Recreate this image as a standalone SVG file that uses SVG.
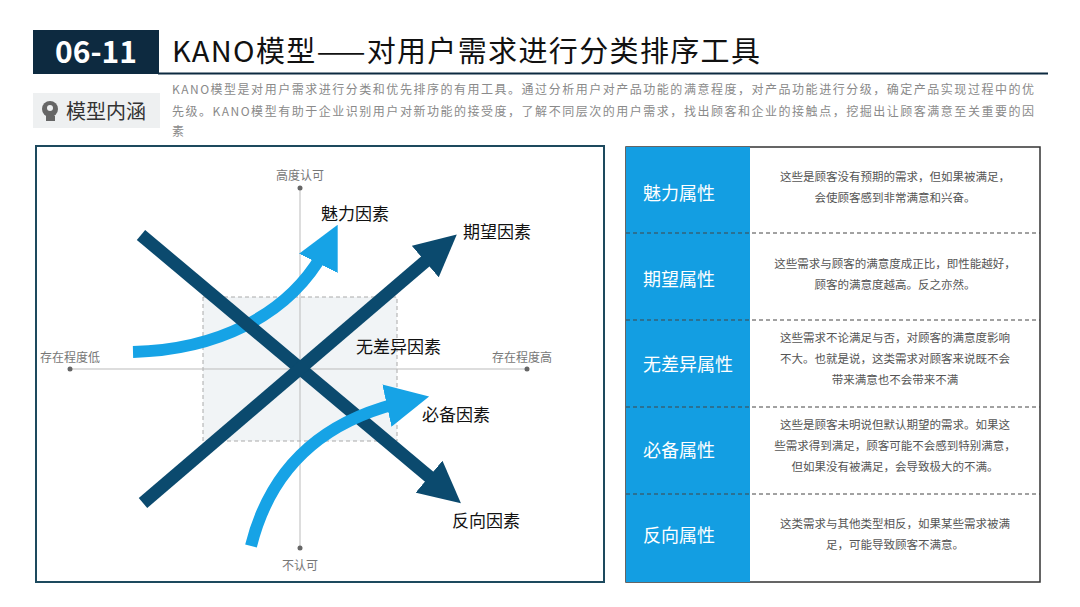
<svg xmlns="http://www.w3.org/2000/svg" width="1080" height="607" viewBox="0 0 1080 607">
<defs>
<style>
text{font-family:"Noto Sans CJK SC","Liberation Sans",sans-serif}
.desc{font-size:12px;fill:#8a8a8a}
.ax{font-size:12px;fill:#777;text-anchor:middle}
.lab{font-size:17px;fill:#111}
.attr{font-size:18px;fill:#fff}
.cell{font-size:11.5px;fill:#555;text-anchor:middle}
.dash{stroke:#444;stroke-width:1;stroke-dasharray:4 3}
</style>
<marker id="hd" viewBox="0 0 10 10" refX="5" refY="5" markerWidth="3.2" markerHeight="3.2" orient="auto"><path d="M0,0L10,5L0,10z" fill="#0b4a6e"/></marker>
<marker id="hl" viewBox="0 0 10 10" refX="5" refY="5" markerWidth="3.6" markerHeight="3.6" orient="auto"><path d="M0,0L10,5L0,10z" fill="#16a3e6"/></marker>
</defs>
<rect width="1080" height="607" fill="#fff"/>
<g id="header">
<rect x="33" y="30" width="126" height="44" fill="#0d2a40"/>
<text x="96" y="63" font-size="30" font-weight="bold" fill="#fff" text-anchor="middle" font-family="Liberation Sans,sans-serif">06-11</text>
<text x="172" y="62" font-size="29" fill="#111" textLength="588">KANO模型——对用户需求进行分类排序工具</text>
<line x1="158" y1="73.5" x2="1048" y2="73.5" stroke="#0d2a40" stroke-width="2"/>
</g>
<g id="intro">
<rect x="33" y="93" width="127" height="35" fill="#eef0f1"/>
<circle cx="50" cy="109" r="8" fill="#666"/><path d="M46,114 L46,121 L55,121 L55,116 Z" fill="#666"/>
<circle cx="50" cy="108" r="3" fill="#eef0f1"/>
<text x="66" y="119" font-size="20" fill="#333">模型内涵</text>
<text class="desc" x="172" y="94" textLength="862">KANO模型是对用户需求进行分类和优先排序的有用工具。通过分析用户对产品功能的满意程度，对产品功能进行分级，确定产品实现过程中的优</text>
<text class="desc" x="172" y="116" textLength="862">先级。KANO模型有助于企业识别用户对新功能的接受度，了解不同层次的用户需求，找出顾客和企业的接触点，挖掘出让顾客满意至关重要的因</text>
<text class="desc" x="172" y="136">素</text>
</g>
<g id="chart">
<rect x="36" y="146" width="568" height="436" fill="#fff" stroke="#1d4a5e" stroke-width="2"/>
<rect x="203" y="297" width="194" height="144" fill="#f1f4f6" stroke="#aaa" stroke-dasharray="4 3"/>
<line x1="70" y1="369" x2="527" y2="369" stroke="#bbb"/>
<line x1="300" y1="188" x2="300" y2="548" stroke="#bbb"/>
<circle cx="70" cy="369" r="2.5" fill="#666"/><circle cx="527" cy="369" r="2.5" fill="#666"/>
<circle cx="300" cy="188" r="2.5" fill="#666"/><circle cx="300" cy="548" r="2.5" fill="#666"/>
<text class="ax" x="300" y="180">高度认可</text>
<text class="ax" x="300" y="570">不认可</text>
<text class="ax" x="70" y="362">存在程度低</text>
<text class="ax" x="522" y="362">存在程度高</text>
</g>
<g id="connectors">
<path d="M133,352 C210,350 290,320 328,244" fill="none" stroke="#16a3e6" stroke-width="12" marker-end="url(#hl)"/>
<path d="M141,235 L445,490" fill="none" stroke="#0b4a6e" stroke-width="13" marker-end="url(#hd)"/>
<path d="M143,503 L441,248" fill="none" stroke="#0b4a6e" stroke-width="13" marker-end="url(#hd)"/>
<path d="M251,546 C270,470 320,420 408,401" fill="none" stroke="#16a3e6" stroke-width="12" marker-end="url(#hl)"/>
</g>
<g id="labels">
<text class="lab" x="321" y="220">魅力因素</text>
<text class="lab" x="463" y="238">期望因素</text>
<text class="lab" x="356" y="353">无差异因素</text>
<text class="lab" x="422" y="421">必备因素</text>
<text class="lab" x="452" y="527">反向因素</text>
</g>
<g id="table">
<rect x="626" y="147" width="414" height="435" fill="#fff" stroke="#333" stroke-width="1.5"/>
<rect x="626" y="147" width="124" height="435" fill="#139ee2"/>
<line class="dash" x1="626" y1="233" x2="1040" y2="233"/>
<line class="dash" x1="626" y1="320" x2="1040" y2="320"/>
<line class="dash" x1="626" y1="407" x2="1040" y2="407"/>
<line class="dash" x1="626" y1="494" x2="1040" y2="494"/>
<g id="r1"><text class="attr" x="643" y="200">魅力属性</text>
<text class="cell" x="895" y="181">这些是顾客没有预期的需求，但如果被满足，</text><text class="cell" x="895" y="202">会使顾客感到非常满意和兴奋。</text></g>
<g id="r2"><text class="attr" x="643" y="286">期望属性</text>
<text class="cell" x="895" y="268">这些需求与顾客的满意度成正比，即性能越好，</text><text class="cell" x="895" y="289">顾客的满意度越高。反之亦然。</text></g>
<g id="r3"><text class="attr" x="643" y="371">无差异属性</text>
<text class="cell" x="895" y="342">这些需求不论满足与否，对顾客的满意度影响</text><text class="cell" x="895" y="363">不大。也就是说，这类需求对顾客来说既不会</text><text class="cell" x="895" y="384">带来满意也不会带来不满</text></g>
<g id="r4"><text class="attr" x="643" y="457">必备属性</text>
<text class="cell" x="895" y="429">这些是顾客未明说但默认期望的需求。如果这</text><text class="cell" x="895" y="450">些需求得到满足，顾客可能不会感到特别满意，</text><text class="cell" x="895" y="471">但如果没有被满足，会导致极大的不满。</text></g>
<g id="r5"><text class="attr" x="643" y="542">反向属性</text>
<text class="cell" x="895" y="528">这类需求与其他类型相反，如果某些需求被满</text><text class="cell" x="895" y="549">足，可能导致顾客不满意。</text></g>
</g>
</svg>
